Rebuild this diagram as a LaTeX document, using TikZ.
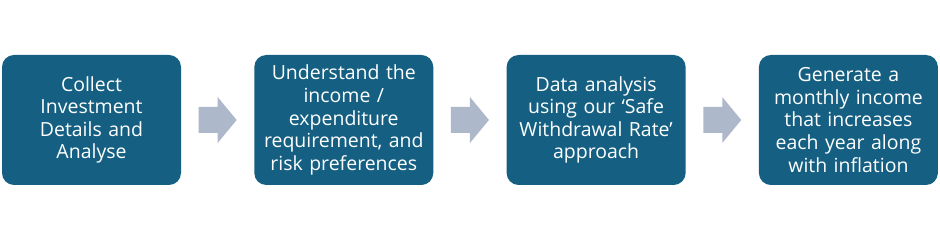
\documentclass[tikz,border=0pt]{standalone}
\usepackage{fontspec}
\setmainfont{Open Sans}
\usetikzlibrary{calc}
\definecolor{boxblue}{HTML}{156082}
\definecolor{arrowgrey}{HTML}{ADB9CA}
\begin{document}
\begin{tikzpicture}[x=0.75pt,y=-0.75pt,
  stepbox/.style={fill=boxblue, draw=none, rounded corners=9pt, minimum width=179*0.75pt, minimum height=130*0.75pt, text width=176*0.75pt, align=center, text=white, font=\fontsize{14.6pt}{16.9pt}\selectfont, inner sep=0pt},
  blockarrow/.style={fill=arrowgrey}]
\useasboundingbox (0,0) rectangle (940,241);
\node[stepbox] (b1) at (91.5,120) {Collect\\Investment\\Details and\\Analyse};
\node[stepbox] (b2) at (343.8,120) {Understand the\\income /\\expenditure\\requirement, and\\risk preferences};
\node[stepbox] (b3) at (596.1,120) {Data analysis\\using our ‘Safe\\Withdrawal Rate’\\approach};
\node[stepbox] (b4) at (848.4,120) {Generate a\\monthly income\\that increases\\each year along\\with inflation};
\foreach \a/\b/\n in {b1/b2/1,b2/b3/2,b3/b4/3}{
  \coordinate (m\n) at ($(\a.east)!0.5!(\b.west)$);
  \fill[blockarrow] ($(m\n)+(-19,-13)$) -- ($(m\n)+(0,-13)$) -- ($(m\n)+(0,-23)$) -- ($(m\n)+(19,0)$) -- ($(m\n)+(0,23)$) -- ($(m\n)+(0,13)$) -- ($(m\n)+(-19,13)$) -- cycle;
}
\end{tikzpicture}
\end{document}
